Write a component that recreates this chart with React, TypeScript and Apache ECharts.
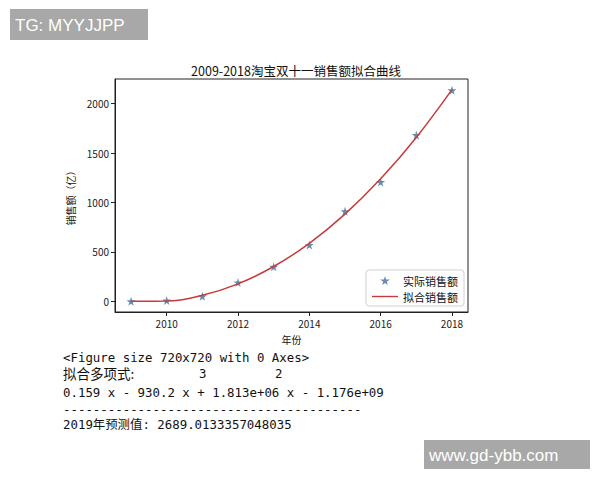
import React, { useRef, useEffect } from 'react';
import * as echarts from 'echarts';

// 2009-2018 双十一销售额（亿）
const years = [2009, 2010, 2011, 2012, 2013, 2014, 2015, 2016, 2017, 2018];
const actualSales = [0.5, 9.36, 52, 191, 350, 571, 912, 1207, 1682, 2135];
const fittedSales = [2.4, 3.7, 62, 178, 353, 588, 883, 1240, 1659, 2142];
const xTicks = [2010, 2012, 2014, 2016, 2018];
const yTicks = [0, 500, 1000, 1500, 2000];

const consoleLines = [
  '<Figure size 720x720 with 0 Axes>',
  '0.159 x - 930.2 x + 1.813e+06 x - 1.176e+09',
  '----------------------------------------',
  '2019年预测值: 2689.0133357048035',
];

const STAR = 'path://M50,0 L61,35 L98,35 L68,57 L79,91 L50,70 L21,91 L32,57 L2,35 L39,35 Z';
const LINE_ICON = 'path://M0,0 L30,0 L30,1.6 L0,1.6 Z';
const CJK = "'Noto Sans CJK SC', sans-serif";
const MONO = "'DejaVu Sans Mono', 'Noto Sans CJK SC', monospace";

const App: React.FC = () => {
  const chartRef = useRef<HTMLDivElement>(null);

  useEffect(() => {
    if (!chartRef.current) return;
    const chart = echarts.init(chartRef.current, null, { renderer: 'svg' });

    const monoText = (text: string, x: number, y: number) => ({
      type: 'text',
      x,
      y,
      style: { text, fill: '#111', font: `12.4px ${MONO}`, textVerticalAlign: 'middle' },
    });

    const option = {
      animation: false,
      backgroundColor: '#fff',
      title: {
        text: '2009-2018淘宝双十一销售额拟合曲线',
        left: 291,
        top: 59,
        textAlign: 'center',
        textStyle: { fontFamily: CJK, fontSize: 12.5, fontWeight: 'normal', color: '#111' },
      },
      grid: {
        left: 115,
        right: 132,
        top: 79,
        bottom: 168,
        show: true,
        borderColor: '#222',
        borderWidth: 1,
        backgroundColor: '#fff',
      },
      legend: {
        right: 136,
        bottom: 174,
        orient: 'vertical',
        backgroundColor: '#fff',
        borderColor: '#d0d0d0',
        borderWidth: 1,
        borderRadius: 3,
        padding: [5, 6, 4, 6],
        itemGap: 5,
        itemWidth: 26,
        itemHeight: 9,
        textStyle: { fontFamily: CJK, fontSize: 11, color: '#111' },
        data: [
          { name: '实际销售额', icon: STAR },
          { name: '拟合销售额', icon: LINE_ICON },
        ],
      },
      xAxis: {
        type: 'value',
        min: 2008.55,
        max: 2018.45,
        name: '年份',
        nameLocation: 'middle',
        nameGap: 22,
        nameTextStyle: { fontFamily: CJK, fontSize: 10, color: '#111' },
        splitLine: { show: false },
        axisLine: { show: true, onZero: false, lineStyle: { color: '#222' } },
        axisTick: { show: true, inside: false, length: 4, customValues: xTicks, lineStyle: { color: '#222' } },
        axisLabel: {
          customValues: xTicks,
          formatter: (v: number) => String(v),
          fontFamily: CJK,
          fontSize: 10,
          color: '#222',
          margin: 6,
        },
      },
      yAxis: {
        type: 'value',
        min: -107,
        max: 2250,
        name: '销售额（亿）',
        nameLocation: 'middle',
        nameGap: 38,
        nameTextStyle: { fontFamily: CJK, fontSize: 10, color: '#111' },
        splitLine: { show: false },
        axisLine: { show: true, onZero: false, lineStyle: { color: '#222' } },
        axisTick: { show: true, inside: false, length: 4, customValues: yTicks, lineStyle: { color: '#222' } },
        axisLabel: {
          customValues: yTicks,
          formatter: (v: number) => String(v),
          fontFamily: CJK,
          fontSize: 10,
          color: '#222',
          margin: 6,
        },
      },
      series: [
        {
          name: '实际销售额',
          type: 'scatter',
          symbol: STAR,
          symbolSize: 9,
          itemStyle: { color: '#3f6f9f' },
          z: 2,
          data: years.map((y, i) => [y, actualSales[i]]),
        },
        {
          name: '拟合销售额',
          type: 'line',
          symbol: 'none',
          smooth: 0.4,
          lineStyle: { color: '#c83a3a', width: 1.5 },
          itemStyle: { color: '#c83a3a' },
          z: 3,
          data: years.map((y, i) => [y, fittedSales[i]]),
        },
      ],
      graphic: [
        {
          type: 'group',
          left: 10,
          top: 9,
          children: [
            { type: 'rect', shape: { x: 0, y: 0, width: 138, height: 31 }, style: { fill: '#a8a8a8' } },
            { type: 'text', x: 5, y: 16, style: { text: 'TG: MYYJJPP', fill: '#fff', font: "17px 'Liberation Sans', sans-serif", textVerticalAlign: 'middle' } },
          ],
        },
        {
          type: 'group',
          left: 424,
          top: 440,
          children: [
            { type: 'rect', shape: { x: 0, y: 0, width: 166, height: 29 }, style: { fill: '#a8a8a8' } },
            { type: 'text', x: 5, y: 15, style: { text: 'www.gd-ybb.com', fill: '#fff', font: "17px 'Liberation Sans', sans-serif", textVerticalAlign: 'middle' } },
          ],
        },
        monoText(consoleLines[0], 63, 357),
        {
          type: 'text',
          x: 63,
          y: 373,
          style: { text: '拟合多项式:', fill: '#111', font: `13.5px ${CJK}`, textVerticalAlign: 'middle' },
        },
        monoText('3', 199, 373),
        monoText('2', 275, 373),
        monoText(consoleLines[1], 63, 392),
        monoText(consoleLines[2], 63, 409),
        monoText(consoleLines[3], 63, 424),
      ],
    };
    chart.setOption(option as any);

    return () => {
      chart.dispose();
    };
  }, []);

  return (
    <div
      ref={chartRef}
      style={{ position: 'absolute', left: 0, top: 0, width: 600, height: 480 }}
    />
  );
};

export default App;
